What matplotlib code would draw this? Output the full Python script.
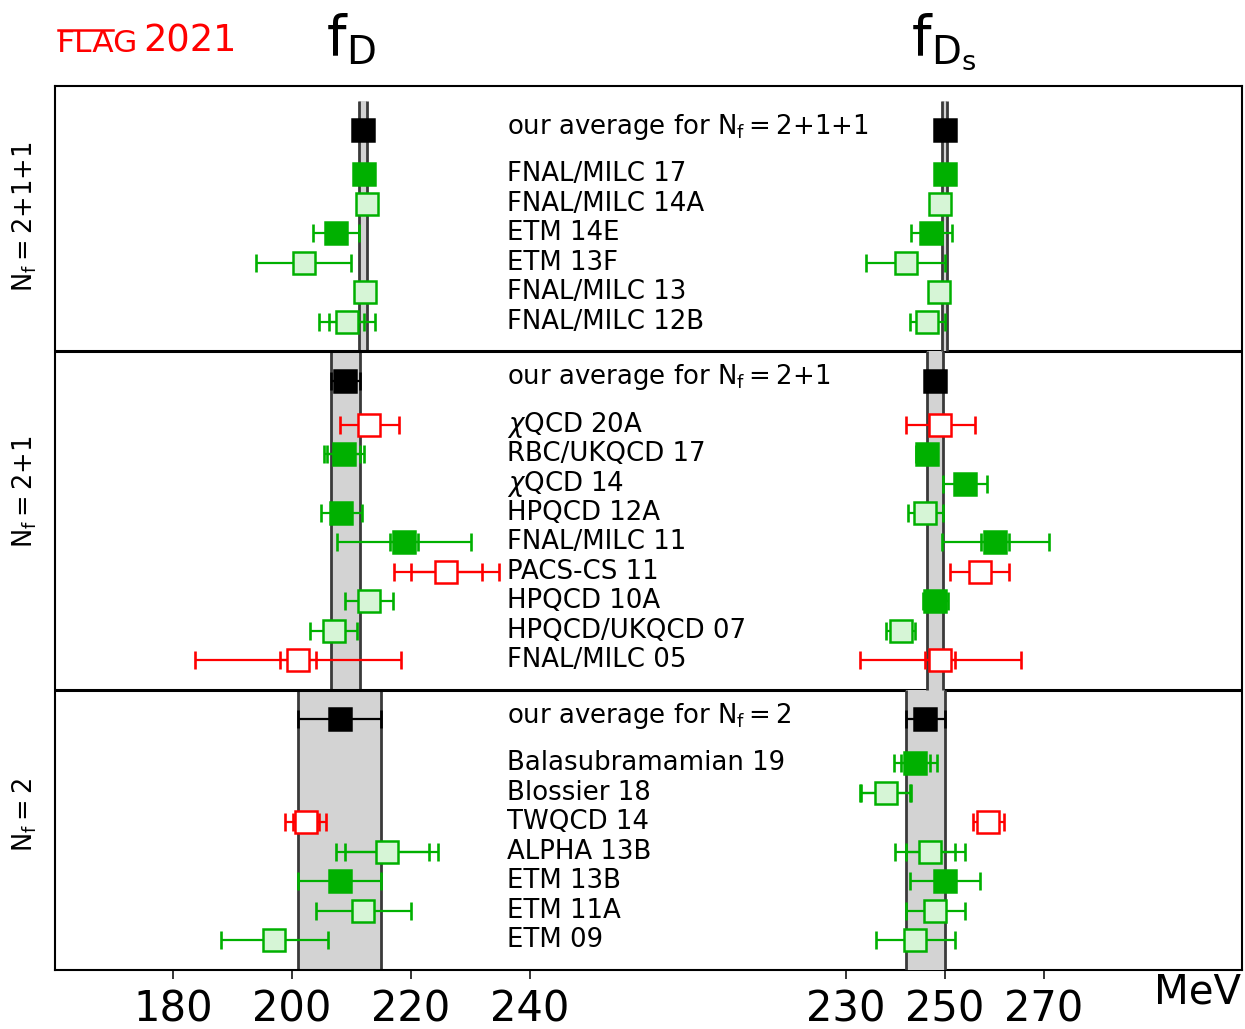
import matplotlib
matplotlib.use("Agg")
import matplotlib.pyplot as plt
from matplotlib.transforms import blended_transform_factory
from matplotlib.lines import Line2D

# ---------------- data (top-to-bottom within each panel) ----------------
panel_labels = [r"$\mathrm{N_f{=}2{+}1{+}1}$", r"$\mathrm{N_f{=}2{+}1}$", r"$\mathrm{N_f{=}2}$"]
avg_labels = [r"our average for $\mathrm{N_f{=}2{+}1{+}1}$",
              r"our average for $\mathrm{N_f{=}2{+}1}$",
              r"our average for $\mathrm{N_f{=}2}$"]
avg_fD = [212.0, 209.0, 208.0]
avg_fD_err = [0.7, 2.4, 7.0]
avg_fDs = [249.9, 248.0, 246.0]
avg_fDs_err = [0.5, 1.6, 4.0]

# Nf = 2+1+1
names_4 = ["FNAL/MILC 17", "FNAL/MILC 14A", "ETM 14E", "ETM 13F", "FNAL/MILC 13", "FNAL/MILC 12B"]
fD_4 = [212.1, 212.6, 207.4, 202.0, 212.3, 209.2]
fD_stat_4 = [0.6, 0.4, 3.8, 8.0, 0.3, 3.0]
fD_lo_4 = [0.6, 1.3, 3.8, 8.0, 1.0, 4.7]
fD_hi_4 = [0.6, 1.1, 3.8, 8.0, 1.0, 4.7]
fD_sty_4 = ["F", "L", "F", "L", "L", "L"]
fDs_4 = [249.9, 249.0, 247.2, 242.0, 248.7, 246.4]
fDs_stat_4 = [0.4, 0.3, 4.1, 8.0, 0.2, 0.5]
fDs_lo_4 = [0.5, 1.5, 4.1, 8.0, 1.0, 3.6]
fDs_hi_4 = [0.5, 1.1, 4.1, 8.0, 1.0, 3.6]
fDs_sty_4 = ["F", "L", "F", "L", "L", "L"]

# Nf = 2+1
names_3 = [r"$\chi$QCD 20A", "RBC/UKQCD 17", r"$\chi$QCD 14", "HPQCD 12A", "FNAL/MILC 11",
           "PACS-CS 11", "HPQCD 10A", "HPQCD/UKQCD 07", "FNAL/MILC 05"]
fD_3 = [213.0, 208.7, None, 208.3, 218.9, 226.0, 213.0, 207.0, 201.0]
fD_stat_3 = [5.0, 2.8, None, 1.0, 2.4, 6.0, 4.0, 4.0, 3.0]
fD_lo_3 = [5.0, 3.3, None, 3.45, 11.3, 8.9, 4.0, 4.0, 17.3]
fD_hi_3 = [5.0, 3.5, None, 3.45, 11.3, 8.9, 4.0, 4.0, 17.3]
fD_sty_3 = ["O", "F", None, "F", "F", "O", "L", "L", "O"]
fDs_3 = [249.0, 246.4, 254.0, 246.0, 260.1, 257.0, 248.0, 241.0, 249.0]
fDs_stat_3 = [7.0, 1.3, 2.0, 0.7, 2.9, 2.0, 2.5, 3.0, 3.0]
fDs_lo_3 = [7.0, 2.3, 4.5, 3.6, 10.8, 6.0, 2.5, 3.0, 16.3]
fDs_hi_3 = [7.0, 1.8, 4.5, 3.6, 10.8, 6.0, 2.5, 3.0, 16.3]
fDs_sty_3 = ["O", "F", "F", "L", "F", "O", "F", "L", "O"]

# Nf = 2
names_2 = ["Balasubramamian 19", "Blossier 18", "TWQCD 14", "ALPHA 13B", "ETM 13B", "ETM 11A", "ETM 09"]
fD_2 = [None, None, 202.3, 216.0, 208.0, 212.0, 197.0]
fD_stat_2 = [None, None, 2.2, 7.0, 7.0, 8.0, 9.0]
fD_lo_2 = [None, None, 3.4, 8.6, 7.0, 8.0, 9.0]
fD_hi_2 = [None, None, 3.4, 8.6, 7.0, 8.0, 9.0]
fD_sty_2 = [None, None, "O", "L", "F", "L", "L"]
fDs_2 = [244.0, 238.0, 258.7, 247.0, 250.0, 248.0, 244.0]
fDs_stat_2 = [3.0, 5.0, 1.1, 5.0, 7.0, 6.0, 8.0]
fDs_lo_2 = [4.3, 5.2, 3.1, 7.1, 7.0, 6.0, 8.0]
fDs_hi_2 = [4.3, 5.2, 3.1, 7.1, 7.0, 6.0, 8.0]
fDs_sty_2 = ["F", "L", "O", "L", "F", "L", "L"]

fD_ticks = [180, 200, 220, 240]
fDs_ticks = [230, 250, 270]

# ---------------- styling ----------------
GREEN = "#00b000"
LIGHT = "#d6f5d6"
RED = "#ff0000"
styles = {"F": (GREEN, GREEN), "L": (GREEN, LIGHT), "O": (RED, "white"), "K": ("black", "black")}

plt.rcParams["font.family"] = ["DejaVu Sans"]
plt.rcParams["mathtext.fontset"] = "dejavusans"

W, H = 1245, 1029
fig = plt.figure(figsize=(W / 100, H / 100), dpi=100)
rect = [54.5 / W, 59.5 / H, 1187.5 / W, 883.5 / H]
ax1 = fig.add_axes(rect)
ax2 = fig.add_axes(rect)
ax2.patch.set_visible(False)

ax1.set_xlim(160, 360)
ax2.set_xlim(70, 310)
ax1.set_ylim(0, 30)
ax2.set_ylim(0, 30)

for ax, ticks in ((ax1, fD_ticks), (ax2, fDs_ticks)):
    ax.set_xticks(ticks)
    ax.set_xticklabels([str(t) for t in ticks])
    ax.set_yticks([])
    ax.tick_params(axis="x", direction="out", length=6.5, width=1.1, labelsize=30, pad=7)
for s in ax2.spines.values():
    s.set_visible(False)
for s in ax1.spines.values():
    s.set_linewidth(1.5)

MS, MEW, ELW, CAP = 15.5, 1.8, 1.6, 6.2


def draw_point(ax, v, y, lo, hi, stat, sty):
    if v is None:
        return
    ec, fc = styles[sty]
    ax.errorbar([v], [y], xerr=[[lo], [hi]], fmt="none", ecolor=ec, elinewidth=ELW,
                capsize=CAP, capthick=ELW + 0.3, zorder=3)
    if stat is not None and stat < min(lo, hi) - 1e-9:
        ax.errorbar([v], [y], xerr=[[stat], [stat]], fmt="none", ecolor=ec, elinewidth=ELW,
                    capsize=CAP, capthick=ELW + 0.3, zorder=3)
    ax.plot([v], [y], linestyle="none", marker="s", ms=MS, mfc=fc, mec=ec, mew=MEW, zorder=4)


panels = [
    (names_4, fD_4, fD_stat_4, fD_lo_4, fD_hi_4, fD_sty_4, fDs_4, fDs_stat_4, fDs_lo_4, fDs_hi_4, fDs_sty_4),
    (names_3, fD_3, fD_stat_3, fD_lo_3, fD_hi_3, fD_sty_3, fDs_3, fDs_stat_3, fDs_lo_3, fDs_hi_3, fDs_sty_3),
    (names_2, fD_2, fD_stat_2, fD_lo_2, fD_hi_2, fD_sty_2, fDs_2, fDs_stat_2, fDs_lo_2, fDs_hi_2, fDs_sty_2),
]

label_tr = blended_transform_factory(ax1.transAxes, ax1.transData)
LABEL_X = (507 - 54.5) / 1187.5

# build from bottom panel upwards
y0 = 0.0
for pi in (2, 1, 0):
    (names, fD, fDst, fDlo, fDhi, fDsty, fDs, fDsst, fDslo, fDshi, fDssty) = panels[pi]
    n = len(names)
    y_top = y0 + n + 2.5
    ya = y0 + n + 1.5
    # bands
    for ax, a, e in ((ax1, avg_fD[pi], avg_fD_err[pi]), (ax2, avg_fDs[pi], avg_fDs_err[pi])):
        ax.fill_betweenx([y0, y_top], a - e, a + e, facecolor="#d3d3d3", edgecolor="none", zorder=1)
        ax.vlines([a - e, a + e], y0, y_top, colors="#3a3a3a", linewidth=2.0, zorder=1.5)
    # averages
    draw_point(ax1, avg_fD[pi], ya, avg_fD_err[pi], avg_fD_err[pi], None, "K")
    draw_point(ax2, avg_fDs[pi], ya, avg_fDs_err[pi], avg_fDs_err[pi], None, "K")
    ax1.text(LABEL_X, ya + 0.12, avg_labels[pi], transform=label_tr, fontsize=18.7, va="center", ha="left")
    # results (listed top-to-bottom)
    for k in range(n):
        y = y0 + n - k
        draw_point(ax1, fD[k], y, fDlo[k], fDhi[k], fDst[k], fDsty[k])
        draw_point(ax2, fDs[k], y, fDslo[k], fDshi[k], fDsst[k], fDssty[k])
        ax1.text(LABEL_X, y, names[k], transform=label_tr, fontsize=18.7, va="center", ha="left")
    if pi != 0:
        ax1.axhline(y_top, color="black", linewidth=2.2, zorder=5)
    y0 = y_top

ax1.set_ylim(0, 30)
ax2.set_ylim(0, 30)

# panel labels on the left
panel_label_y = [217, 492, 815]
for pi in range(3):
    fig.text(25 / W, 1 - panel_label_y[pi] / H, panel_labels[pi], rotation=90, fontsize=18.5,
             ha="center", va="center")

# titles
fig.text(351 / W, 1 - 55 / H, r"$\mathrm{f_D}$", fontsize=40, ha="center", va="baseline")
fig.text(944 / W, 1 - 55 / H, r"$\mathrm{f_{D_s}}$", fontsize=40, ha="center", va="baseline")

# unit
fig.text(1241 / W, 1 - 972 / H, "MeV", fontsize=29, ha="right", va="top")

# FLAG logo
fig.text(57 / W, 1 - 52 / H, "FLAG", color=RED, fontsize=22.5, va="baseline", ha="left")
fig.text(143 / W, 1 - 52 / H, "2021", color=RED, fontsize=26.5, va="baseline", ha="left")
fig.add_artist(Line2D([58 / W, 113 / W], [1 - 29.5 / H, 1 - 29.5 / H], color=RED, linewidth=1.8,
                      transform=fig.transFigure))

fig.savefig("out.png", dpi=100, facecolor="white")
